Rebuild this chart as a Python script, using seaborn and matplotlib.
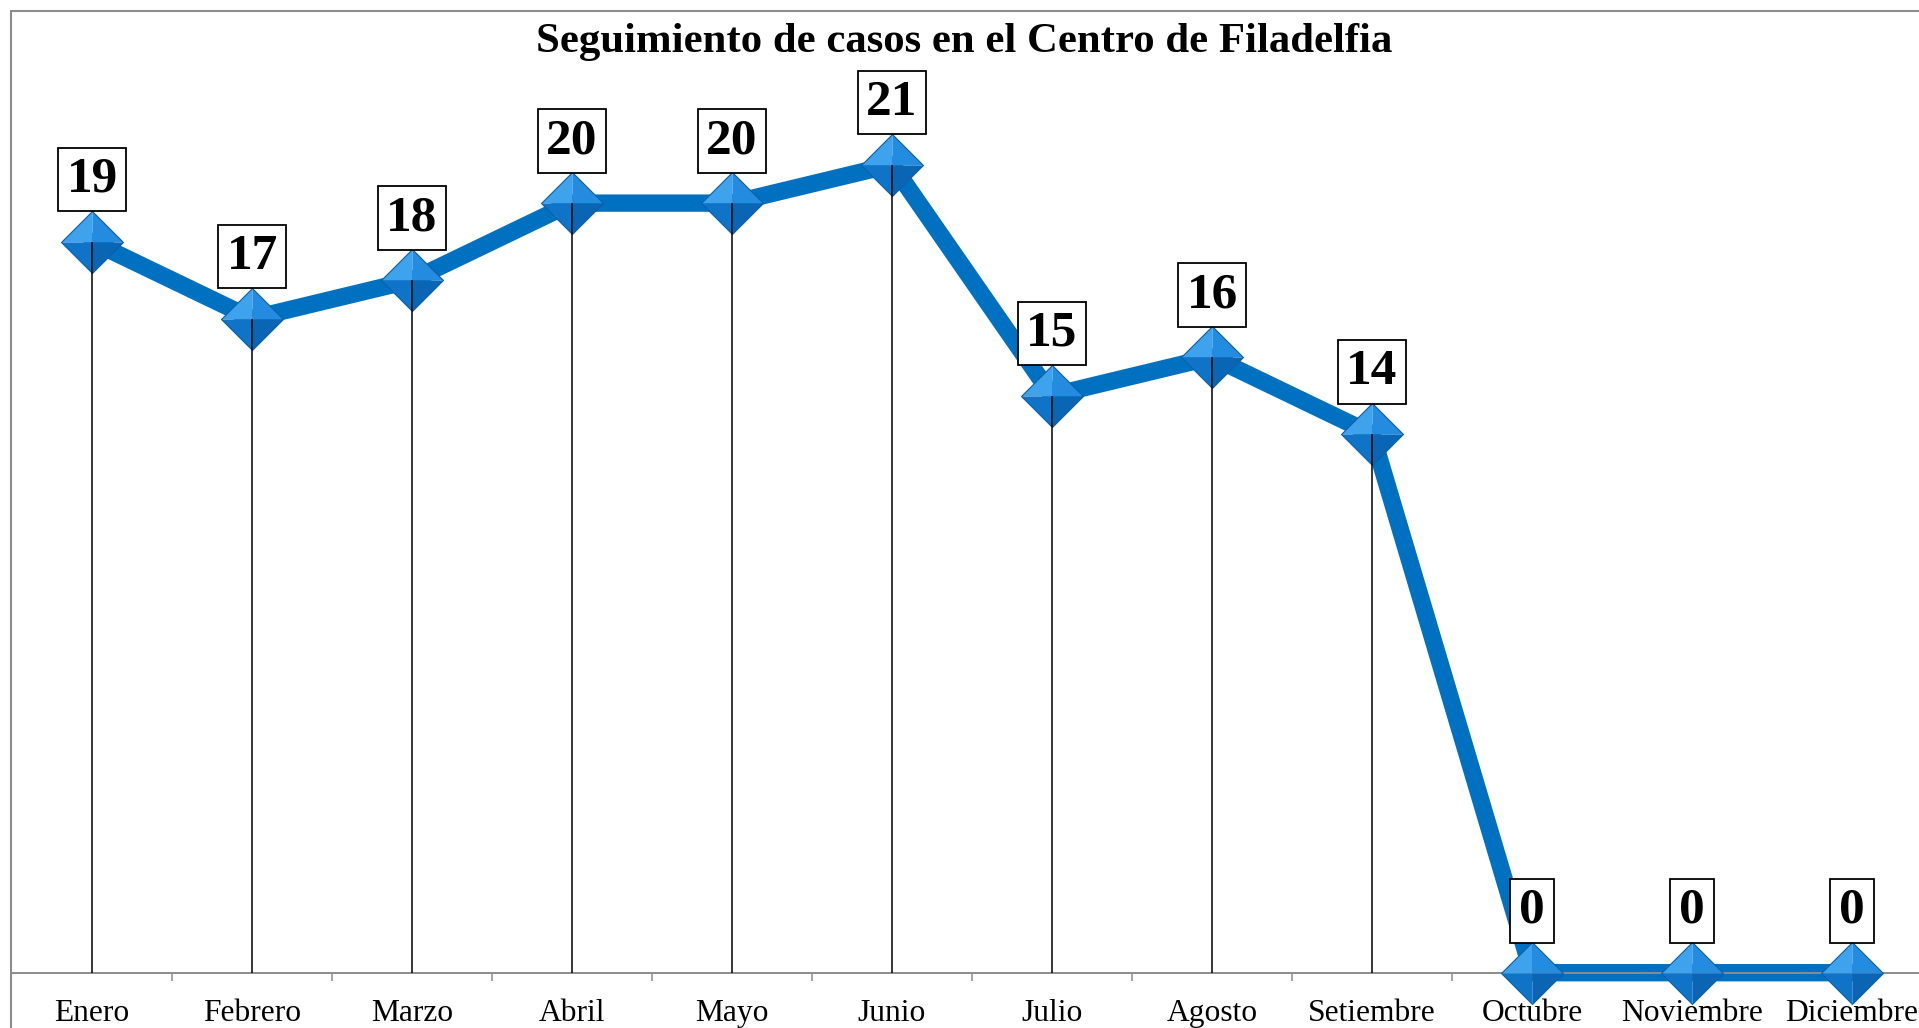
import numpy as np
import pandas as pd
import matplotlib
matplotlib.use("Agg")
import matplotlib.pyplot as plt
from matplotlib.patches import Rectangle
import seaborn as sns

months = ["Enero", "Febrero", "Marzo", "Abril", "Mayo", "Junio", "Julio",
          "Agosto", "Setiembre", "Octubre", "Noviembre", "Diciembre"]
cases = [19, 17, 18, 20, 20, 21, 15, 16, 14, 0, 0, 0]
title = "Seguimiento de casos en el Centro de Filadelfia"

sns.set_theme(style="white")
plt.rcParams["font.family"] = ["Liberation Serif", "DejaVu Serif"]

W, H = 1919, 1028
fig = plt.figure(figsize=(W / 100, H / 100), dpi=100)
ax = fig.add_axes([12 / W, (H - 972.7) / H, 1920 / W, (972.7 - 49.2) / H])

df = pd.DataFrame({"mes": months, "casos": cases, "x": np.arange(len(months))})

# main line
sns.lineplot(data=df, x="x", y="casos", ax=ax, color="#0070C0", linewidth=12.5,
             zorder=2, clip_on=False)

# diamond markers with facets
ms = 44.6
facets = [
    ([(0, 0), (-1, 0), (0, 1)], "#3FA2EC"),
    ([(0, 0), (0, 1), (1, 0)], "#238CE0"),
    ([(0, 0), (-1, 0), (0, -1)], "#0F74C8"),
    ([(0, 0), (1, 0), (0, -1)], "#0A66B4"),
]
for verts, col in facets:
    ax.plot(df["x"], df["casos"], linestyle="none", marker=verts, markersize=ms,
            markerfacecolor=col, markeredgewidth=0, zorder=3, clip_on=False)
ax.plot(df["x"], df["casos"], linestyle="none",
        marker=[(-1, 0), (0, 1), (1, 0), (0, -1), (-1, 0)], markersize=ms,
        markerfacecolor="none", markeredgecolor="#0B5FA5", markeredgewidth=0.8,
        zorder=3.1, clip_on=False)

# drop lines
ax.vlines(df["x"], 0, df["casos"], colors="black", linewidth=1.1, zorder=4)

# data labels
for xi, v in zip(df["x"], df["casos"]):
    ax.annotate(str(v), (xi, v), xytext=(0, 28), textcoords="offset points",
                ha="center", va="bottom", fontsize=37, fontweight="bold",
                color="black", zorder=5, annotation_clip=False,
                bbox=dict(boxstyle="square,pad=0.17", fc="white", ec="black", lw=1.3))

ax.set_xlim(-0.5, len(months) - 0.5)
ax.set_ylim(0, 24)
ax.set_xlabel("")
ax.set_ylabel("")
ax.set_yticks([])
ax.set_xticks(np.arange(len(months)))
ax.set_xticklabels(months, fontsize=22.7, color="black")
ax.set_xticks(np.arange(len(months)) + 0.5, minor=True)
ax.tick_params(axis="x", which="major", length=0, pad=19)
ax.tick_params(axis="x", which="minor", length=5.8, width=1.1, color="#8C8C8C",
               direction="out", bottom=True)
for s in ["left", "right", "top"]:
    ax.spines[s].set_visible(False)
ax.spines["bottom"].set_color("#8C8C8C")
ax.spines["bottom"].set_linewidth(1.4)
ax.patch.set_alpha(0)

fig.suptitle(title, x=964 / W, y=1 - 51.7 / H, va="baseline", ha="center",
             fontsize=30.8, fontweight="bold", color="black")

fig.patches.append(Rectangle((11 / W, -0.1), 2.0, 0.1 + (H - 10.7) / H,
                             transform=fig.transFigure, fill=False,
                             edgecolor="#8C8C8C", linewidth=1.5, zorder=0))

fig.savefig("out.png", dpi=100)
